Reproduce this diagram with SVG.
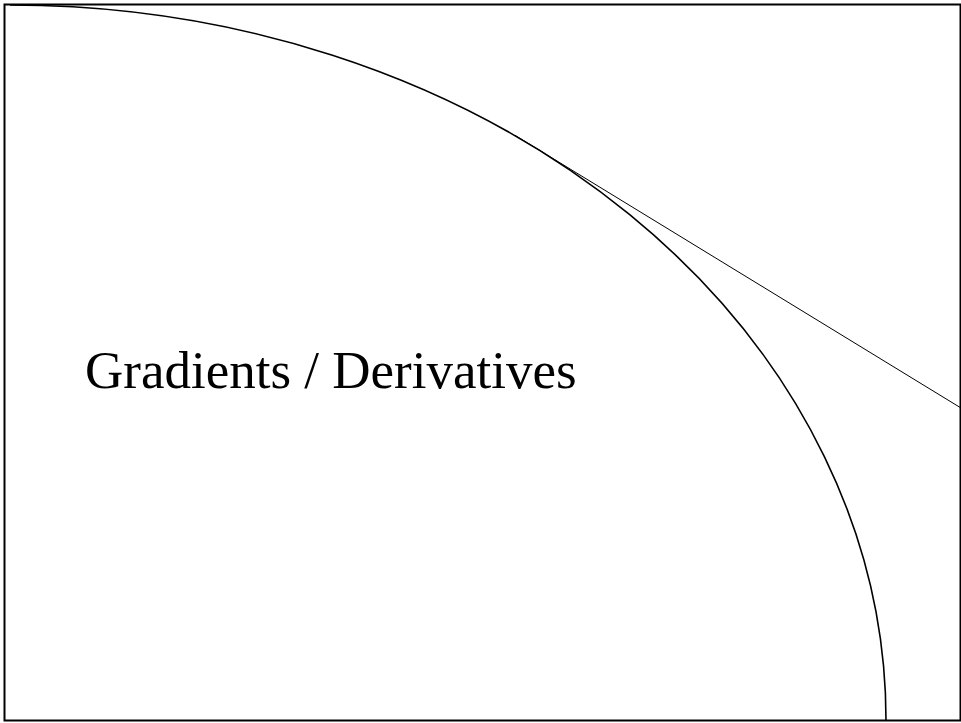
<svg xmlns="http://www.w3.org/2000/svg" width="961" height="723" viewBox="0 0 961 723">
<style>
.frame{fill:none;stroke:#000;stroke-width:2}
.curve{fill:none;stroke:#000;stroke-width:1.6}
.tan{fill:none;stroke:#000;stroke-width:1}
.title{font-family:"Liberation Serif","Times New Roman",serif;font-size:53px;fill:#000}
</style>
<rect width="961" height="723" fill="#fff"/>
<g id="frame"><rect class="frame" x="4.5" y="4.5" width="956" height="716"/></g>
<g id="connectors">
<path class="curve" d="M10,5 A876,715 0 0 1 886,720"/>
<line class="tan" x1="515" y1="135.3" x2="961" y2="408"/>
</g>
<g id="title"><text class="title" x="85" y="388">Gradients / Derivatives</text></g>
</svg>
